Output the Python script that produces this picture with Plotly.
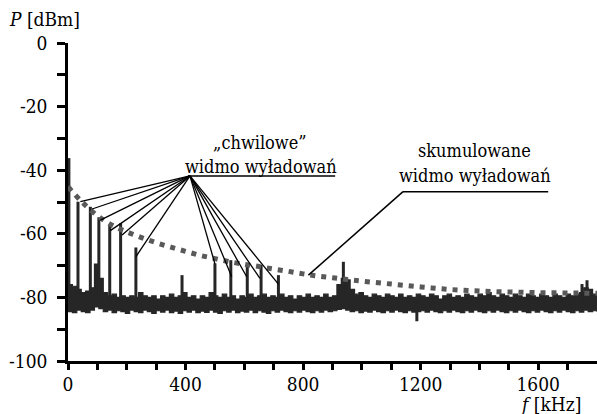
import plotly.graph_objects as go

# ---------------- data ----------------
# noise floor of the "instantaneous" spectrum: upper / lower envelope, 15 kHz grid
noise_f = list(range(0, 1801, 15))
noise_upper = [
    -76.0, -76.5, -77.5, -78.5, -78.0, -77.0, -69.5, -74.0, -78.5, -79.5,
    -79.0, -80.0, -79.5, -80.0, -79.5, -80.0, -78.5, -79.5, -80.0, -79.5,
    -80.5, -79.5, -80.0, -79.0, -80.0, -79.5, -78.5, -80.0, -79.5, -80.5,
    -79.5, -80.0, -78.5, -79.5, -80.0, -79.0, -80.0, -79.5, -80.5, -79.5,
    -80.0, -79.0, -80.0, -79.5, -79.0, -80.0, -79.5, -80.0, -79.0, -80.0,
    -79.5, -80.5, -79.5, -80.0, -79.0, -80.0, -79.5, -80.0, -79.0, -80.0,
    -79.5, -76.0, -74.0, -74.5, -77.5, -79.0, -78.5, -79.5, -80.0, -79.0,
    -79.5, -80.0, -79.0, -79.5, -80.0, -79.0, -80.0, -79.5, -80.0, -79.0,
    -79.5, -80.0, -79.0, -79.5, -80.5, -79.5, -79.0, -80.0, -79.5, -80.0,
    -79.0, -79.5, -80.0, -79.0, -79.5, -78.5, -79.5, -80.0, -79.0, -79.5,
    -80.0, -79.0, -79.5, -80.0, -79.0, -79.5, -80.0, -79.0, -79.5, -80.0,
    -79.0, -79.5, -80.0, -79.0, -79.5, -79.0, -78.5, -77.0, -77.5, -79.0,
    -79.5,
]
noise_lower = [
    -84.5, -84.8, -84.0, -84.5, -84.8, -84.0, -83.0, -83.5, -84.5, -84.0,
    -84.8, -84.2, -84.5, -85.0, -84.0, -84.5, -84.8, -84.0, -84.5, -85.0,
    -84.2, -84.6, -84.0, -84.8, -84.3, -85.0, -84.2, -84.6, -84.0, -84.8,
    -84.3, -84.7, -84.0, -84.6, -85.0, -84.2, -84.6, -84.0, -84.8, -84.3,
    -84.6, -84.0, -84.8, -84.2, -84.6, -85.0, -84.2, -84.6, -84.0, -84.5,
    -84.8, -84.2, -84.6, -84.0, -84.5, -84.8, -84.2, -84.6, -84.0, -84.5,
    -84.2, -83.8, -83.5, -84.0, -84.5, -84.2, -84.8, -84.3, -84.6, -84.0,
    -84.5, -84.8, -84.2, -84.6, -84.0, -84.5, -84.8, -84.2, -84.6, -84.5,
    -84.2, -84.6, -84.0, -84.5, -84.8, -84.2, -84.6, -84.0, -84.5, -84.8,
    -84.2, -84.6, -84.0, -84.5, -84.8, -84.2, -84.6, -84.0, -84.5, -84.8,
    -84.2, -84.6, -84.0, -84.5, -84.8, -84.2, -84.6, -84.0, -84.5, -84.8,
    -84.2, -84.6, -84.0, -84.5, -84.8, -84.2, -84.6, -84.0, -84.5, -84.2,
    -84.5,
]

# discharge spectral lines (kHz, dBm) rising from the noise floor
spike_base = -82.0
spike_f = [3, 34, 76, 105, 142, 179, 231, 388, 500, 554, 610, 657, 716, 937, 1187, 1749, 1766]
spike_top = [-36.2, -49.9, -51.5, -54.8, -57.2, -56.7, -64.3, -73.0, -69.3, -68.3,
             -70.4, -69.8, -73.0, -68.8, -87.5, -75.8, -74.6]

# accumulated (envelope) spectrum – dotted curve
cum_f = [0, 50, 100, 150, 200, 250, 300, 350, 400, 450, 500, 550, 600, 650, 700,
         750, 800, 850, 900, 950, 1000, 1100, 1200, 1300, 1400, 1500, 1600, 1700, 1800]
cum_y = [-45.2, -50.2, -54.3, -57.3, -59.4, -61.2, -62.8, -64.2, -65.5, -66.8,
         -67.8, -68.8, -69.6, -70.3, -71.1, -71.8, -72.6, -73.3, -73.8, -74.4,
         -74.9, -75.8, -76.7, -77.5, -78.0, -78.3, -78.5, -78.6, -78.7]

# annotation leader lines
hub = (415, -41.8)
lead_f = [42, 82, 110, 144, 184, 231, 500, 557, 608, 653, 716]
lead_y = [-49.9, -52.2, -55.7, -59.0, -60.4, -67.2, -69.5, -73.5, -73.5, -74.0, -75.8]
underline_left = ([408, 909], [-41.8, -41.8])
underline_right = ([1140, 1634], [-46.75, -46.75])
cum_leader = ([1140, 818], [-46.75, -73.0])

label_chw = ["„chwilowe”", "widmo wyładowań"]
label_chw_pos = [(653, -31.4), (657, -38.7)]
label_cum = ["skumulowane", "widmo wyładowań"]
label_cum_pos = [(1382, -33.9), (1386, -41.8)]

x_ticks = list(range(0, 1701, 100))
x_ticktext = [str(v) if v % 400 == 0 else "" for v in x_ticks]
y_ticks = list(range(0, -101, -10))
y_ticktext = [str(v) if v % 20 == 0 else "" for v in y_ticks]

# ---------------- figure ----------------
INK = "#262626"
FONT = "DejaVu Serif Condensed, DejaVu Serif"
fig = go.Figure()

# noise band
fig.add_trace(go.Scatter(x=noise_f, y=noise_lower, mode="lines", line=dict(color=INK, width=1.2, shape="hv"),
                         hoverinfo="skip", showlegend=False))
fig.add_trace(go.Scatter(x=noise_f, y=noise_upper, mode="lines", line=dict(color=INK, width=1.2, shape="hv"),
                         fill="tonexty", fillcolor=INK, hoverinfo="skip", showlegend=False))

# spikes
sx, sy = [], []
for f, t in zip(spike_f, spike_top):
    sx += [f, f, None]
    sy += [spike_base, t, None]
fig.add_trace(go.Scatter(x=sx, y=sy, mode="lines", line=dict(color=INK, width=3),
                         hoverinfo="skip", showlegend=False))

# cumulative dotted curve
fig.add_trace(go.Scatter(x=cum_f, y=cum_y, mode="lines",
                         line=dict(color="#595959", width=5, dash="5px,6px", shape="spline"),
                         hoverinfo="skip", showlegend=False))

# leader lines
lx, ly = [], []
for f, y in zip(lead_f, lead_y):
    lx += [hub[0], f, None]
    ly += [hub[1], y, None]
fig.add_trace(go.Scatter(x=lx, y=ly, mode="lines", line=dict(color="black", width=1.3),
                         hoverinfo="skip", showlegend=False))
for seg in (underline_left, underline_right, cum_leader):
    fig.add_trace(go.Scatter(x=seg[0], y=seg[1], mode="lines", line=dict(color="black", width=1.5),
                             hoverinfo="skip", showlegend=False))

annotations = []
for txt, (x, y) in list(zip(label_chw, label_chw_pos)) + list(zip(label_cum, label_cum_pos)):
    annotations.append(dict(x=x, y=y, xref="x", yref="y", text=txt, showarrow=False,
                            xanchor="center", yanchor="middle",
                            font=dict(family=FONT, size=18, color="black")))
annotations.append(dict(x=-0.115, y=1.075, xref="paper", yref="paper", text="<i>P</i> [dBm]",
                        showarrow=False, xanchor="left", yanchor="middle",
                        font=dict(family=FONT, size=19, color="black")))
annotations.append(dict(x=0.974, y=-0.135, xref="paper", yref="paper", text="<i>f</i> [kHz]",
                        showarrow=False, xanchor="right", yanchor="middle",
                        font=dict(family=FONT, size=19, color="black")))

fig.update_layout(
    width=597, height=414,
    margin=dict(l=68, r=0, t=43, b=53),
    paper_bgcolor="white", plot_bgcolor="white",
    font=dict(family=FONT, size=19, color="black"),
    annotations=annotations,
    xaxis=dict(range=[0, 1800], showgrid=False, zeroline=False, showline=True, linecolor="black",
               linewidth=2.5, ticks="outside", ticklen=6, tickwidth=2.5, tickcolor="black",
               tickmode="array", tickvals=x_ticks, ticktext=x_ticktext, ticklabelstandoff=-2,
               tickfont=dict(family=FONT, size=19, color="black")),
    yaxis=dict(range=[-100, 0], showgrid=False, zeroline=False, showline=True, linecolor="black",
               linewidth=2.5, ticks="outside", ticklen=8, tickwidth=2.5, tickcolor="black",
               tickmode="array", tickvals=y_ticks, ticktext=y_ticktext, ticklabelstandoff=6,
               tickfont=dict(family=FONT, size=19, color="black")),
)

fig.write_html("out.html")
